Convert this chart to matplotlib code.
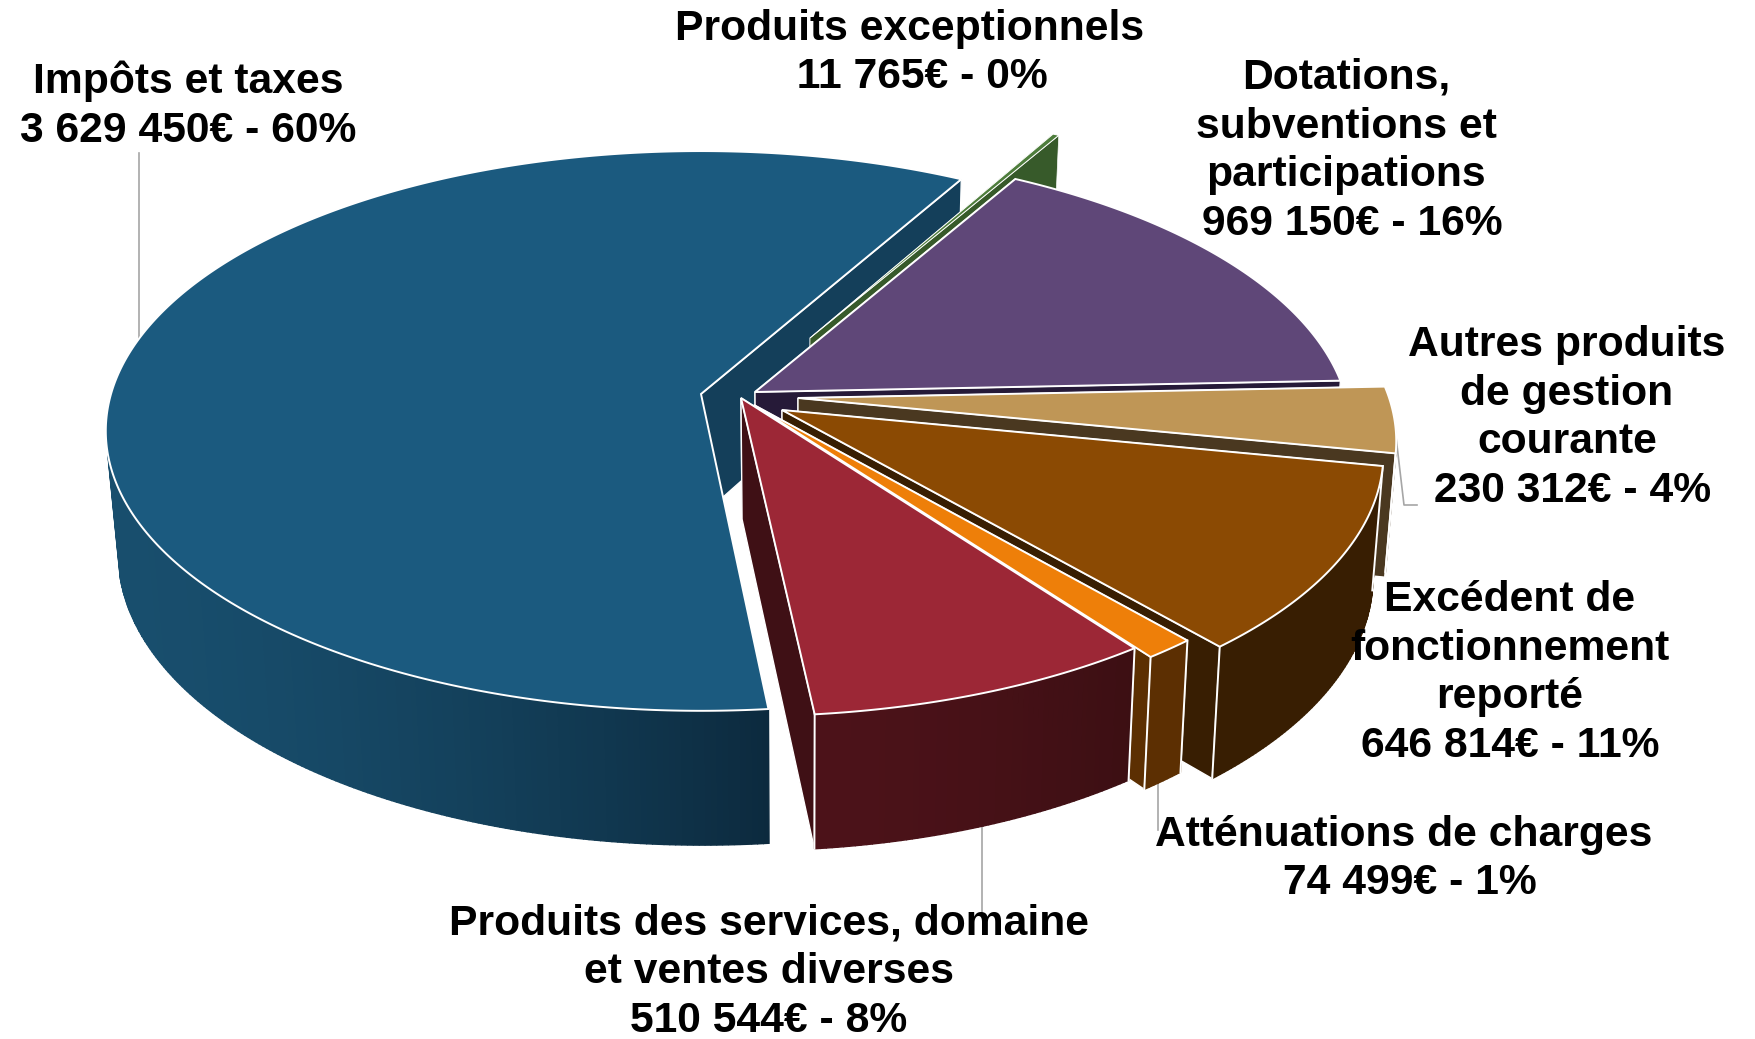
import numpy as np
import matplotlib
matplotlib.use("Agg")
import matplotlib.pyplot as plt
from matplotlib.colors import to_rgb
from matplotlib.patches import Polygon

categories = ["Impôts et taxes", "Produits exceptionnels",
              "Dotations,\nsubventions et\nparticipations",
              "Autres produits\nde gestion\ncourante",
              "Excédent de\nfonctionnement\nreporté",
              "Atténuations de charges",
              "Produits des services, domaine\net ventes diverses"]
values = [3629450, 11765, 969150, 230312, 646814, 74499, 510544]

# style of each slice: top, wall at left, wall at right, cut face
top_colors = ["#1b5a7f", "#4e7d3c", "#5f4778", "#bf9656", "#8b4a03", "#ee7f09", "#9c2736"]
wall_left = ["#184e6d", "#375a2a", "#261a38", "#4a3820", "#381e02", "#5c2f02", "#4c1219"]
wall_right = ["#0c2a3e", "#375a2a", "#261a38", "#4a3820", "#381e02", "#5c2f02", "#3c0f13"]
cut_colors = ["#143f5a", "#375a2a", "#261a38", "#4a3820", "#381e02", "#5c2f02", "#3f1015"]

# where each exploded slice has its point, in pixels
apex_px = [(701, 394), (810, 338), (755, 392), (798, 398), (782, 410), (754, 405), (741, 398)]
label_pos = [(188, 106), (910, 53), (1346, 151), (1567, 418), (1510, 673), (1404, 859), (769, 972)]
lead_spaces = [0, 2, 1, 1, 0, 1, 0]

START_ANGLE = 174.3
OX, OY = 701, 394
A, B, K = 590, 275, 0.132
DEPTH = 121
LEAN = 0.018
LEAN_X = 800
WHITE_LW = 1.4


def top_xy(u, v):
    s = 1 / (1 - K * v)
    return OX + A * u * s, OY + B * v * s


def bottom_xy(u, v):
    x, y = top_xy(u, v)
    return x - LEAN * (x - LEAN_X), y + DEPTH * (1 + 0.11 * v)


def plane_coords(px, py):
    yr = py - OY
    v = yr / (B + K * yr)
    s = 1 / (1 - K * v)
    return (px - OX) / (A * s), v


def rim(u0, v0, theta):
    t = np.radians(theta)
    return u0 + np.sin(t), v0 - np.cos(t)


fig = plt.figure(figsize=(17.55, 10.39), dpi=100)
ax = fig.add_axes([0, 0, 1, 1])
ax.set_xlim(0, 1755)
ax.set_ylim(1039, 0)
ax.axis("off")

# leader lines
ax.plot([139, 139], [153, 341], color="#a6a6a6", lw=1.2, zorder=1)
ax.plot([982, 982], [825, 912], color="#a6a6a6", lw=1.2, zorder=1)
ax.plot([1158, 1158], [778, 830], color="#a6a6a6", lw=1.2, zorder=1)
ax.plot([1394, 1404, 1417], [420, 505, 505], color="#a6a6a6", lw=1.2, zorder=1)

total = sum(values)
angle = START_ANGLE
z = 2
for i, val in enumerate(values):
    sweep = 360 * val / total
    a0, a1 = angle, angle + sweep
    angle = a1
    u0, v0 = plane_coords(*apex_px[i])
    thetas = np.linspace(a0, a1, max(int(sweep * 2), 2) + 1)
    ru, rv = rim(u0, v0, thetas)
    edge_lw = 0.7 if i == 1 else WHITE_LW

    # cut faces
    for th in (a0, a1):
        u, v = rim(u0, v0, th)
        pts = [top_xy(u0, v0), top_xy(u, v), bottom_xy(u, v), bottom_xy(u0, v0)]
        ax.add_patch(Polygon(pts, closed=True, fc=cut_colors[i], ec="white", lw=edge_lw * 0.7, zorder=z))
        z += 1

    # outer wall, only the part that faces the viewer
    front = [th for th in thetas if 100 <= th % 360 <= 258]
    if len(front) > 1:
        front = np.array(front)
        fu, fv = rim(u0, v0, front)
        tx, ty = top_xy(fu, fv)
        bx, by = bottom_xy(fu, fv)
        x_lo, x_hi = tx.min(), tx.max()
        c_l, c_r = np.array(to_rgb(wall_left[i])), np.array(to_rgb(wall_right[i]))
        for j in range(len(front) - 1):
            f = ((tx[j] + tx[j + 1]) / 2 - x_lo) / max(x_hi - x_lo, 1)
            col = c_l + (c_r - c_l) * f ** 1.6
            pts = [(tx[j], ty[j]), (tx[j + 1], ty[j + 1]), (bx[j + 1], by[j + 1]), (bx[j], by[j])]
            ax.add_patch(Polygon(pts, closed=True, fc=col, ec=col, lw=1.0, zorder=z))
        z += 1
        # white corners of the wall
        if i > 0:
            for j in (0, -1):
                ax.plot([tx[j], bx[j]], [ty[j], by[j]], color="white", lw=WHITE_LW, zorder=z)
        z += 1

    # top face
    tx, ty = top_xy(ru, rv)
    pts = [top_xy(u0, v0)] + list(zip(tx, ty))
    ax.add_patch(Polygon(pts, closed=True, fc=top_colors[i], ec="white", lw=edge_lw, joinstyle="miter", zorder=z))
    z += 1

# labels
for i, name in enumerate(categories):
    amount = f"{values[i]:,}".replace(",", " ")
    pct = round(100 * values[i] / total)
    text = f"{name}\n{' ' * lead_spaces[i]}{amount}€ - {pct}%"
    ax.text(label_pos[i][0], label_pos[i][1], text, ha="center", va="center", multialignment="center",
            family=["Liberation Sans", "DejaVu Sans"], fontweight="bold", fontsize=30.7, color="black",
            linespacing=1.28, zorder=100)

fig.savefig("out.png", dpi=100)
